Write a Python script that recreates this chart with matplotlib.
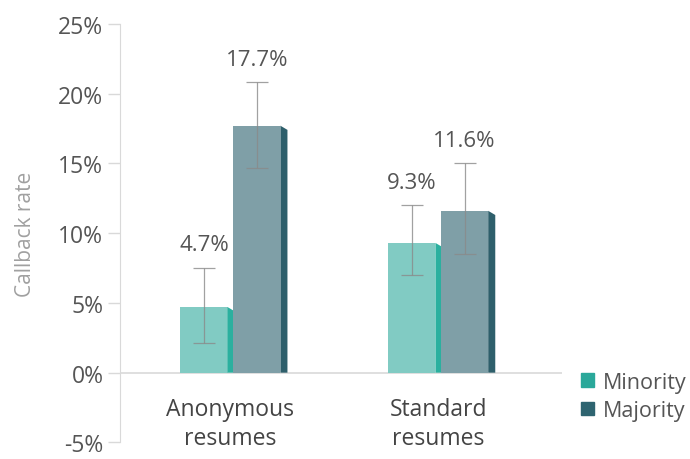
import matplotlib.pyplot as plt
from matplotlib.patches import Patch, Polygon

plt.rcParams['font.family'] = ['Open Sans', 'DejaVu Sans']

groups = ["Anonymous\nresumes", "Standard\nresumes"]
series = ["Minority", "Majority"]
values = {"Minority": [4.7, 9.3], "Majority": [17.7, 11.6]}
err_low = {"Minority": [2.1, 7.0], "Majority": [14.7, 8.5]}
err_high = {"Minority": [7.5, 12.0], "Majority": [20.8, 15.0]}
yticks = [-5, 0, 5, 10, 15, 20, 25]

front = {"Minority": "#81cbc3", "Majority": "#7f9fa7"}
side = {"Minority": "#2bb09f", "Majority": "#2e5f6b"}
legend_col = {"Minority": "#2aa89a", "Majority": "#2e6470"}

fig = plt.figure(figsize=(6.9, 4.6), dpi=100)
ax = fig.add_axes([0.174, 0.036, 0.64, 0.91])

w = 0.227
d = 0.034
offsets = {"Minority": -0.127, "Majority": 0.127}

for s in series:
    for i, v in enumerate(values[s]):
        xc = i + offsets[s]
        ax.bar(xc, v, width=w, color=front[s], zorder=2)
        xr = xc + w / 2
        ax.add_patch(Polygon([(xr, 0), (xr, v), (xr + d, v - 0.3), (xr + d, 0)],
                             closed=True, color=side[s], zorder=2, lw=0))
        lo, hi = err_low[s][i], err_high[s][i]
        ax.errorbar(xc, v, yerr=[[v - lo], [hi - v]], fmt='none', ecolor='#8a8a8a',
                    elinewidth=0.9, capsize=8, capthick=0.9, alpha=0.8, zorder=3)
        ax.text(xc, hi + 0.9, f"{v}%", ha='center', va='bottom', fontsize=16, color='#555555')

ax.axhline(0, color='#d9d9d9', lw=1.2, zorder=1)
ax.set_xlim(-0.531, 1.594)
ax.set_ylim(-5, 25)
ax.set_yticks(yticks)
ax.set_yticklabels([f"{t}%" for t in yticks], fontsize=16.5, color='#555555')
ax.tick_params(axis='y', color='#d9d9d9', length=9, width=1, pad=3)
ax.set_xticks([])
for sp in ['top', 'right', 'bottom']:
    ax.spines[sp].set_visible(False)
ax.spines['left'].set_color('#d9d9d9')
ax.set_ylabel("Callback rate", fontsize=15, color='#a0a0a0')
ax.yaxis.set_label_coords(-0.19, 0.5)

for i, g in enumerate(groups):
    ax.text(i, -1.75, g, ha='center', va='top', fontsize=16.5, color='#444444', linespacing=1.25)

handles = [Patch(color=legend_col[s], label=s) for s in series]
fig.legend(handles=handles, loc='upper left', bbox_to_anchor=(0.842, 0.19), frameon=False,
           fontsize=15.5, handlelength=0.6, handleheight=0.6, handletextpad=0.4,
           labelspacing=0.35, labelcolor='#555555', borderpad=0, borderaxespad=0)

fig.savefig("out.png", dpi=100)
